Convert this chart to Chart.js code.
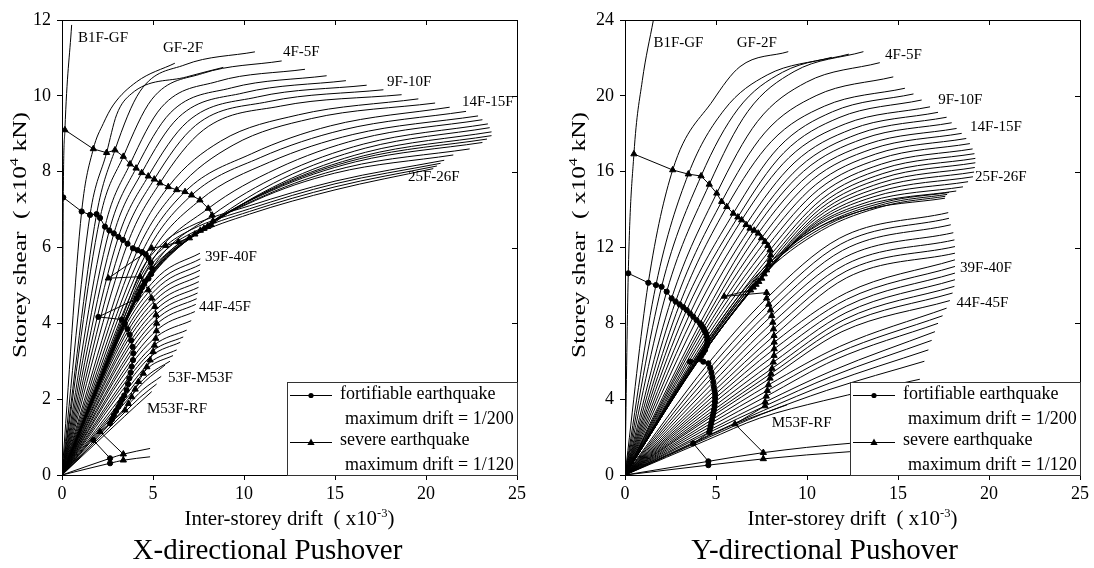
<!DOCTYPE html>
<html>
<head>
<meta charset="utf-8">
<script src="https://cdn.jsdelivr.net/npm/chart.js@4.4.0/dist/chart.umd.min.js"></script>
<style>
  html, body { margin: 0; padding: 0; background: #fff; }
  #wrap { position: relative; width: 1094px; height: 568px; overflow: hidden; }
  .pane { position: absolute; top: 0; width: 547px; height: 568px; }
</style>
</head>
<body>
<div id="wrap">
  <div class="pane" style="left:0"><canvas id="chartX" width="547" height="568"></canvas></div>
  <div class="pane" style="left:547px"><canvas id="chartY" width="547" height="568"></canvas></div>
</div>
<script>
// ---------- axis ticks ----------
const driftTicks = [0, 5, 10, 15, 20, 25];
const xShearTicks = [0, 2, 4, 6, 8, 10, 12];
const yShearTicks = [0, 4, 8, 12, 16, 20, 24];

// ---------- X-direction storey curves [drift, shear] ----------
const xTopStorey = [[0,0],[0.07,7.32],[0.16,9.1],[0.53,11.87]];

const xUpperCurves = [
  [[0,0],[1.08,6.95],[1.72,8.6],[2.27,9.27],[2.82,9.76],[4.1,10.37],[6.2,10.86]],
  [[0,0],[1.54,6.86],[2.45,8.5],[3.0,9.5],[3.8,10.05],[6.85,10.5],[8.86,10.75]],
  [[0,0],[1.9,6.88],[2.91,8.57],[4.29,10.12],[6.76,10.82],[10.6,11.16]],
  [[0,0],[2.09,6.78],[3.37,8.4],[4.94,9.91],[7.72,10.59],[12.07,10.92]],
  [[0,0],[2.36,6.55],[3.74,8.2],[5.47,9.7],[8.55,10.38],[13.35,10.7]],
  [[0,0],[2.6,6.45],[4.07,8.09],[5.95,9.55],[9.31,10.21],[14.54,10.53]],
  [[0,0],[2.85,6.37],[4.38,7.97],[6.4,9.43],[9.99,10.08],[15.6,10.4]],
  [[0,0],[3.1,6.28],[4.74,7.88],[6.9,9.32],[10.74,9.97],[16.74,10.28]],
  [[0,0],[3.35,6.2],[5.07,7.8],[7.34,9.22],[11.37,9.85],[17.66,10.16]],
  [[0,0],[3.6,6.1],[5.38,7.7],[7.77,9.1],[12.02,9.73],[18.66,10.03]],
  [[0,0],[3.9,5.98],[5.84,7.6],[8.7,8.8],[13.0,9.5],[19.58,9.92]],
  [[0,0],[4.15,5.93],[6.3,7.52],[9.4,8.7],[13.7,9.4],[20.5,9.81]],
  [[0,0],[4.4,5.88],[6.76,7.47],[10.4,8.47],[14.76,9.21],[21.3,9.7]],
  [[0,0],[4.6,5.82],[7.12,7.38],[10.89,8.37],[15.41,9.1],[22.2,9.59]],
  [[0,0],[4.75,5.72],[7.58,7.25],[11.4,8.25],[15.98,8.98],[22.86,9.47]],
  [[0,0],[4.88,5.6],[8.04,7.03],[11.81,8.08],[16.32,8.86],[23.1,9.37]],
  [[0,0],[4.95,5.45],[8.25,6.85],[12.04,7.93],[16.58,8.73],[23.4,9.26]],
  [[0,0],[4.9,5.3],[8.3,6.7],[12.1,7.81],[16.66,8.62],[23.5,9.16]],
  [[0,0],[4.75,5.18],[8.2,6.6],[12.05,7.7],[16.67,8.51],[23.6,9.05]],
  [[0,0],[4.55,5.1],[8.0,6.55],[11.9,7.63],[16.58,8.42],[23.6,8.95]],
  [[0,0],[4.4,4.95],[7.8,6.5],[11.69,7.56],[16.35,8.34],[23.35,8.86]],
  [[0,0],[4.3,4.85],[7.6,6.45],[11.48,7.49],[16.13,8.26],[23.1,8.77]],
  [[0,0],[4.2,4.75],[7.3,6.35],[11.08,7.36],[15.61,8.11],[22.4,8.6]],
  [[0,0],[4.1,4.65],[7.0,6.25],[10.63,7.24],[14.98,7.96],[21.5,8.44]]
];

const xBandCurves = [
  [[0,0],[1.6,2.0],[3.2,4.0],[4.3,5.35],[5.5,6.1],[7.0,6.55],[10.3,7.1],[15,7.75],[21,8.3]],
  [[0,0],[1.65,2.0],[3.3,4.0],[4.4,5.3],[5.6,6.0],[7.1,6.47],[10.3,7.02],[15,7.68],[20.8,8.22]],
  [[0,0],[1.7,2.0],[3.4,4.0],[4.5,5.25],[5.7,5.93],[7.2,6.4],[10.3,6.95],[15,7.6],[20.6,8.15]],
  [[0,0],[1.75,2.0],[3.5,4.0],[4.6,5.2],[5.8,5.86],[7.3,6.33],[10.3,6.88],[15,7.52],[20.4,8.08]]
];

const xLowerCurves = [
  [[0,0],[3.57,4.1],[5.37,5.27],[7.58,5.85]],
  [[0,0],[3.56,3.99],[5.38,5.13],[7.6,5.7]],
  [[0,0],[3.6,3.89],[5.4,5.0],[7.6,5.55]],
  [[0,0],[3.6,3.78],[5.39,4.86],[7.58,5.4]],
  [[0,0],[3.64,3.68],[5.4,4.73],[7.55,5.25]],
  [[0,0],[3.64,3.57],[5.39,4.59],[7.52,5.1]],
  [[0,0],[3.69,3.47],[5.4,4.46],[7.5,4.95]],
  [[0,0],[3.69,3.36],[5.38,4.32],[7.45,4.8]],
  [[0,0],[3.75,3.26],[5.39,4.19],[7.4,4.65]],
  [[0,0],[3.75,3.15],[5.37,4.05],[7.35,4.5]],
  [[0,0],[3.78,3.02],[5.36,3.88],[7.3,4.31]],
  [[0,0],[3.7,2.85],[5.23,3.66],[7.1,4.07]],
  [[0,0],[3.66,2.67],[5.1,3.44],[6.85,3.82]],
  [[0,0],[3.64,2.55],[5.0,3.28],[6.66,3.64]],
  [[0,0],[3.66,2.45],[4.94,3.15],[6.5,3.5]],
  [[0,0],[3.67,2.31],[4.85,2.97],[6.3,3.3]],
  [[0,0],[3.68,2.21],[4.77,2.84],[6.1,3.15]],
  [[0,0],[3.68,2.1],[4.69,2.62],[5.93,3.0]],
  [[0,0],[3.69,2.03],[4.58,2.48],[5.66,2.9]],
  [[0,0],[3.57,1.82],[4.42,2.24],[5.45,2.6]],
  [[0,0],[3.5,1.68],[4.27,2.04],[5.2,2.4]],
  [[0,0],[3.42,1.54],[4.1,1.84],[4.93,2.2]]
];

const xBaseCurves = [
  [[0,0],[2.64,0.44],[3.37,0.55],[4.84,0.7]],
  [[0,0],[2.64,0.31],[3.37,0.39],[4.84,0.48]]
];

const xFortifiable = [[0.07,7.32],[1.08,6.95],[1.54,6.86],[1.9,6.88],[2.09,6.78],[2.36,6.55],[2.6,6.45],[2.85,6.37],[3.1,6.28],[3.35,6.2],[3.6,6.1],[3.9,5.98],[4.15,5.93],[4.4,5.88],[4.6,5.82],[4.75,5.72],[4.88,5.6],[4.95,5.45],[4.9,5.3],[4.75,5.18],[4.55,5.1],[4.4,4.95],[4.3,4.85],[4.2,4.75],[4.1,4.65],[2.0,4.17],[3.28,4.1],[3.45,3.98],[3.6,3.85],[3.72,3.7],[3.8,3.55],[3.88,3.38],[3.92,3.21],[3.9,3.03],[3.83,2.86],[3.77,2.7],[3.7,2.55],[3.63,2.4],[3.55,2.24],[3.42,2.1],[3.3,2.0],[3.2,1.9],[3.1,1.8],[2.97,1.69],[2.85,1.58],[2.75,1.47],[2.64,1.36],[1.72,0.92],[2.64,0.44],[2.64,0.31]];

const xSevere = [[0.16,9.1],[1.72,8.6],[2.45,8.5],[2.91,8.57],[3.37,8.4],[3.74,8.2],[4.07,8.09],[4.38,7.97],[4.74,7.88],[5.07,7.8],[5.38,7.7],[5.84,7.6],[6.3,7.52],[6.76,7.47],[7.12,7.38],[7.58,7.25],[8.04,7.03],[8.25,6.85],[8.3,6.7],[8.2,6.6],[8.0,6.55],[7.8,6.5],[7.6,6.45],[7.3,6.35],[7.0,6.25],[6.4,6.15],[5.7,6.05],[4.93,5.98],[2.55,5.19],[4.29,5.23],[4.5,5.05],[4.74,4.88],[4.93,4.66],[5.1,4.44],[5.17,4.22],[5.2,4.0],[5.19,3.8],[5.15,3.6],[5.08,3.42],[5.0,3.25],[4.84,3.03],[4.66,2.85],[4.47,2.68],[4.2,2.46],[4.02,2.26],[3.83,2.06],[3.65,1.88],[3.46,1.71],[2.09,1.14],[3.37,0.55],[3.37,0.39]];

const xCurveNames = ['B1F-GF','GF-2F','4F-5F','9F-10F','14F-15F','25F-26F','39F-40F','44F-45F','53F-M53F','M53F-RF'];
const xNameAt = [[0.88,11.52],[5.55,11.26],[12.14,11.16],[17.86,10.36],[21.98,9.84],[19.01,7.86],[7.86,5.75],[7.53,4.43],[5.82,2.56],[4.67,1.74]];

// ---------- Y-direction storey curves [drift, shear] ----------
const yTopStorey = [[0,0],[0.18,10.64],[0.49,16.93],[0.95,20.8],[1.56,24]];

const yUpperCurves = [
  [[0,0],[1.28,10.14],[2.62,16.09],[4.85,19.78],[6.32,21.54],[8.97,22.33]],
  [[0,0],[1.7,10.02],[3.48,15.87],[5.45,19.26],[7.81,21.1],[11.36,22.03]],
  [[0,0],[2.01,9.93],[4.18,15.77],[6.21,19.31],[8.65,21.24],[12.3,22.2]],
  [[0,0],[2.29,9.67],[4.63,15.33],[6.75,19.18],[9.29,21.28],[13.1,22.33]],
  [[0,0],[2.56,9.32],[5.04,14.86],[7.28,18.65],[9.97,20.72],[14.0,21.75]],
  [[0,0],[2.78,9.15],[5.31,14.42],[7.67,18.04],[10.5,20.01],[14.74,21.0]],
  [[0,0],[3.0,9.0],[5.59,14.15],[8.04,17.59],[10.97,19.46],[15.38,20.4]],
  [[0,0],[3.2,8.85],[5.95,13.8],[8.43,17.27],[11.4,19.16],[15.85,20.1]],
  [[0,0],[3.39,8.7],[6.2,13.6],[8.73,17.0],[11.76,18.85],[16.3,19.78]],
  [[0,0],[3.57,8.52],[6.41,13.45],[9.0,16.73],[12.1,18.52],[16.76,19.42]],
  [[0,0],[3.75,8.35],[6.65,13.2],[9.29,16.46],[12.45,18.24],[17.2,19.13]],
  [[0,0],[3.93,8.17],[6.87,13.01],[9.57,16.23],[12.81,17.99],[17.67,18.87]],
  [[0,0],[4.12,8.0],[7.1,12.9],[9.81,16.02],[13.07,17.73],[17.95,18.58]],
  [[0,0],[4.22,7.87],[7.32,12.75],[10.05,15.79],[13.32,17.45],[18.22,18.28]],
  [[0,0],[4.3,7.75],[7.5,12.5],[10.25,15.54],[13.55,17.19],[18.5,18.02]],
  [[0,0],[4.38,7.6],[7.69,12.31],[10.46,15.3],[13.77,16.93],[18.75,17.75]],
  [[0,0],[4.45,7.47],[7.85,12.1],[10.63,15.06],[13.96,16.67],[18.95,17.48]],
  [[0,0],[4.5,7.3],[7.97,11.87],[10.75,14.8],[14.09,16.4],[19.1,17.2]],
  [[0,0],[4.52,7.12],[8.0,11.6],[10.8,14.54],[14.16,16.15],[19.2,16.95]],
  [[0,0],[4.52,6.95],[7.97,11.34],[10.79,14.29],[14.17,15.9],[19.25,16.7]],
  [[0,0],[4.48,6.8],[7.9,11.1],[10.74,14.05],[14.14,15.66],[19.25,16.47]],
  [[0,0],[4.4,6.6],[7.78,10.81],[10.64,13.79],[14.07,15.41],[19.22,16.22]],
  [[0,0],[4.3,6.45],[7.65,10.6],[10.53,13.56],[13.99,15.17],[19.18,15.98]],
  [[0,0],[4.2,6.3],[7.51,10.37],[10.41,13.32],[13.9,14.93],[19.12,15.73]],
  [[0,0],[4.1,6.15],[7.35,10.2],[10.23,13.1],[13.68,14.68],[18.85,15.47]],
  [[0,0],[4.0,6.0],[7.2,10.05],[10.04,12.88],[13.45,14.43],[18.57,15.2]],
  [[0,0],[3.9,5.85],[7.05,9.9],[9.84,12.69],[13.18,14.22],[18.2,14.98]],
  [[0,0],[3.8,5.7],[6.9,9.75],[9.57,12.42],[12.77,13.87],[17.58,14.6]]
];

const yBandCurves = [
  [[0,0],[4.49,7.1],[7.3,10.6],[10.7,13.1],[14.3,14.4],[17.8,14.9]],
  [[0,0],[4.55,7.05],[7.35,10.5],[10.75,13.0],[14.3,14.3],[17.7,14.8]],
  [[0,0],[4.6,7.0],[7.4,10.4],[10.8,12.9],[14.3,14.2],[17.6,14.7]]
];

const yLowerCurves = [
  [[0,0],[4.58,5.89],[7.78,9.32],[11.77,12.48],[17.76,13.84]],
  [[0,0],[4.68,5.65],[7.9,9.0],[11.86,12.18],[17.8,13.54]],
  [[0,0],[4.75,5.4],[8.0,8.7],[11.96,11.85],[17.9,13.2]],
  [[0,0],[4.8,5.15],[8.06,8.4],[12.05,11.47],[18.04,12.78]],
  [[0,0],[4.85,4.9],[8.12,8.05],[12.11,11.1],[18.1,12.4]],
  [[0,0],[4.88,4.65],[8.16,7.7],[12.15,10.75],[18.13,12.05]],
  [[0,0],[4.92,4.45],[8.19,7.35],[12.17,10.4],[18.13,11.7]],
  [[0,0],[4.95,4.25],[8.2,7.0],[12.17,9.61],[18.13,11.35]],
  [[0,0],[4.95,4.05],[8.2,6.65],[12.17,9.26],[18.13,11.0]],
  [[0,0],[4.94,3.85],[8.19,6.3],[12.17,8.91],[18.13,10.65]],
  [[0,0],[4.92,3.64],[8.15,5.95],[12.14,8.56],[18.13,10.3]],
  [[0,0],[4.89,3.44],[8.08,5.62],[12.09,8.22],[18.1,9.95]],
  [[0,0],[4.86,3.27],[8.02,5.35],[12.01,7.9],[18.0,9.6]],
  [[0,0],[4.82,3.12],[7.97,5.1],[11.92,7.56],[17.85,9.2]],
  [[0,0],[4.78,2.92],[7.88,4.75],[11.8,6.78],[17.67,8.8]],
  [[0,0],[4.74,2.74],[7.82,4.45],[11.67,6.43],[17.45,8.4]],
  [[0,0],[4.7,2.56],[7.76,4.15],[11.54,6.08],[17.2,8.0]],
  [[0,0],[4.66,2.38],[7.7,3.85],[11.43,5.52],[17.03,7.56]],
  [[0,0],[4.63,2.25],[7.69,3.64],[11.35,5.2],[16.85,7.1]],
  [[0,0],[4.6,2.1],[7.6,3.4],[11.23,4.84],[16.67,6.6]],
  [[0,0],[4.58,1.98],[7.5,3.2],[11.08,4.46],[16.45,6.0]],
  [[0,0],[4.55,1.86],[7.4,3.0],[10.92,3.92],[16.2,5.05]],
  [[0,0],[3.75,1.67],[6.04,2.69],[8.9,3.7]]
];

const yBaseCurves = [
  [[0,0],[4.58,0.72],[7.6,1.18],[12.36,1.67],[18,1.95]],
  [[0,0],[4.58,0.52],[7.6,0.85],[12.36,1.23],[18,1.5]]
];

const yFortifiable = [[0.18,10.64],[1.28,10.14],[1.7,10.02],[2.01,9.93],[2.29,9.67],[2.56,9.32],[2.78,9.15],[3.0,9.0],[3.2,8.85],[3.39,8.7],[3.57,8.52],[3.75,8.35],[3.93,8.17],[4.12,8.0],[4.22,7.87],[4.3,7.75],[4.38,7.6],[4.45,7.47],[4.5,7.3],[4.52,7.12],[4.52,6.95],[4.48,6.8],[4.4,6.6],[4.3,6.45],[4.2,6.3],[4.1,6.15],[3.57,5.98],[4.3,5.98],[4.58,5.89],[4.68,5.65],[4.75,5.4],[4.8,5.15],[4.85,4.9],[4.88,4.65],[4.92,4.45],[4.95,4.25],[4.95,4.05],[4.94,3.85],[4.92,3.64],[4.89,3.44],[4.86,3.27],[4.82,3.12],[4.78,2.92],[4.74,2.74],[4.7,2.56],[4.66,2.38],[4.63,2.25],[3.75,1.67],[4.58,0.72],[4.58,0.52]];

const ySevere = [[0.49,16.93],[2.62,16.09],[3.48,15.87],[4.18,15.77],[4.63,15.33],[5.04,14.86],[5.31,14.42],[5.59,14.15],[5.95,13.8],[6.2,13.6],[6.41,13.45],[6.65,13.2],[6.87,13.01],[7.1,12.9],[7.32,12.75],[7.5,12.5],[7.69,12.31],[7.85,12.1],[7.97,11.87],[8.0,11.6],[7.97,11.34],[7.9,11.1],[7.78,10.81],[7.65,10.6],[7.51,10.37],[7.35,10.2],[7.2,10.05],[7.05,9.9],[6.9,9.75],[5.45,9.42],[7.78,9.62],[7.78,9.32],[7.9,9.0],[8.0,8.7],[8.06,8.4],[8.12,8.05],[8.16,7.7],[8.19,7.35],[8.2,7.0],[8.2,6.65],[8.19,6.3],[8.15,5.95],[8.08,5.62],[8.02,5.35],[7.97,5.1],[7.88,4.75],[7.82,4.45],[7.76,4.15],[7.7,3.85],[7.69,3.64],[6.04,2.69],[7.6,1.18],[7.6,0.85]];

const yCurveNames = ['B1F-GF','GF-2F','4F-5F','9F-10F','14F-15F','25F-26F','39F-40F','44F-45F','M53F-RF'];
const yNameAt = [[1.56,22.77],[6.14,22.77],[14.29,22.15],[17.21,19.78],[18.96,18.37],[19.23,15.73],[18.41,10.9],[18.22,9.06],[8.06,2.73]];

const legendText = ['fortifiable earthquake', 'maximum drift = 1/200', 'severe earthquake', 'maximum drift = 1/120'];

// ---------- drawing ----------
const SERIF = '"Liberation Serif", "Times New Roman", serif';
Chart.defaults.font.family = SERIF;
Chart.defaults.color = '#000';

function toXY(pts) {
  return pts.map(p => ({ x: p[0], y: p[1] }));
}

function curve(pts) {
  return {
    data: toXY(pts), showLine: true, borderColor: '#000', borderWidth: 1,
    pointRadius: 0, pointHoverRadius: 0, cubicInterpolationMode: 'monotone', fill: false
  };
}

function chain(pts, style, r) {
  return {
    data: toXY(pts), showLine: true, borderColor: '#000', borderWidth: 1, tension: 0,
    pointRadius: r, pointHoverRadius: r, pointStyle: style,
    pointBackgroundColor: '#000', pointBorderColor: '#000', pointBorderWidth: 1, fill: false
  };
}

// text with one raised part, centred on cx and stretched to a given width
function supText(ctx, parts, cx, y, width) {
  let total = 0;
  parts.forEach(p => { ctx.font = p[1] + 'px ' + SERIF; p.w = ctx.measureText(p[0]).width; total += p.w; });
  ctx.save();
  ctx.translate(cx - width / 2, y);
  ctx.scale(width / total, 1);
  let x = 0;
  parts.forEach(p => { ctx.font = p[1] + 'px ' + SERIF; ctx.fillText(p[0], x, p[2]); x += p.w; });
  ctx.restore();
}

function marker(ctx, style, x, y) {
  ctx.beginPath();
  if (style === 'circle') {
    ctx.arc(x, y, 2.6, 0, Math.PI * 2);
  } else {
    ctx.moveTo(x, y - 4); ctx.lineTo(x + 3.6, y + 2.4); ctx.lineTo(x - 3.6, y + 2.4); ctx.closePath();
  }
  ctx.fill();
}

const decor = {
  id: 'decor',
  afterDatasetsDraw(chart, args, o) {
    const ctx = chart.ctx, a = chart.chartArea;
    const sx = chart.scales.x, sy = chart.scales.y;
    ctx.save();
    ctx.strokeStyle = '#000';
    ctx.lineWidth = 1;
    ctx.beginPath();
    ctx.moveTo(a.left, a.top + 0.5);
    ctx.lineTo(a.right + 0.5, a.top + 0.5);
    ctx.lineTo(a.right + 0.5, a.bottom + 0.5);
    o.xTicks.forEach(v => {
      const p = Math.round(sx.getPixelForValue(v)) + 0.5;
      ctx.moveTo(p, a.top); ctx.lineTo(p, a.top + 5);
    });
    o.yTicks.forEach(v => {
      const p = Math.round(sy.getPixelForValue(v)) + 0.5;
      ctx.moveTo(a.right, p); ctx.lineTo(a.right - 5, p);
    });
    ctx.stroke();

    // storey labels
    ctx.fillStyle = '#000';
    ctx.font = '15px ' + SERIF;
    ctx.textAlign = 'left';
    ctx.textBaseline = 'middle';
    o.names.forEach((t, i) => {
      ctx.fillText(t, sx.getPixelForValue(o.nameAt[i][0]), sy.getPixelForValue(o.nameAt[i][1]));
    });

    // legend box
    const lw = 230, lh = 93, lx = a.right - lw, ly = a.bottom - lh;
    ctx.fillStyle = '#fff';
    ctx.fillRect(lx, ly, lw, lh);
    ctx.strokeStyle = '#333';
    ctx.strokeRect(lx + 0.5, ly + 0.5, lw, lh);
    ctx.strokeStyle = '#000';
    ctx.fillStyle = '#000';
    [[ly + 13.5, 'circle'], [ly + 60.5, 'triangle']].forEach(r => {
      ctx.beginPath(); ctx.moveTo(lx + 3, r[0]); ctx.lineTo(lx + 45, r[0]); ctx.stroke();
      marker(ctx, r[1], lx + 24, r[0]);
    });
    ctx.font = '18px ' + SERIF;
    ctx.textBaseline = 'alphabetic';
    ctx.fillText(legendText[0], lx + 53, ly + 17);
    ctx.fillText(legendText[1], lx + 58, ly + 42);
    ctx.fillText(legendText[2], lx + 53, ly + 63);
    ctx.fillText(legendText[3], lx + 58, ly + 88);
    ctx.restore();
  },
  afterDraw(chart, args, o) {
    const ctx = chart.ctx, a = chart.chartArea;
    const mid = (a.left + a.right) / 2;
    ctx.save();
    ctx.fillStyle = '#000';
    ctx.textAlign = 'left';
    ctx.textBaseline = 'alphabetic';
    supText(ctx, [['Inter-storey drift  ( x10', 20, 0], ['-3', 12, -8], [')', 20, 0]], mid, 525, 210);
    ctx.save();
    ctx.translate(o.yTitleX, 235);
    ctx.rotate(-Math.PI / 2);
    supText(ctx, [['Storey shear  ( x10', 19, 0], ['4', 12, -8], [' kN)', 19, 0]], 0, 0, 246);
    ctx.restore();
    ctx.font = '29px ' + SERIF;
    ctx.textAlign = 'center';
    ctx.fillText(o.title, mid + o.titleShift, 559);
    ctx.restore();
  }
};

function makeChart(id, cfg) {
  const datasets = [
    chain(cfg.fort, 'circle', 2.6),
    chain(cfg.severe, 'triangle', 3.6),
    curve(cfg.top)
  ];
  cfg.groups.forEach(g => g.forEach(c => datasets.push(curve(c))));

  return new Chart(document.getElementById(id), {
    type: 'scatter',
    data: { datasets },
    plugins: [decor],
    options: {
      responsive: false,
      animation: false,
      events: [],
      layout: { padding: { top: 20, right: cfg.rightPad, left: 0, bottom: 0 } },
      plugins: {
        legend: { display: false },
        tooltip: { enabled: false },
        decor: {
          xTicks: driftTicks, yTicks: cfg.yTicks, names: cfg.names, nameAt: cfg.nameAt,
          title: cfg.title, titleShift: cfg.titleShift, yTitleX: cfg.yTitleX
        }
      },
      scales: {
        x: {
          type: 'linear', min: 0, max: 25,
          afterBuildTicks: s => { s.ticks = driftTicks.map(v => ({ value: v })); },
          afterFit: s => { s.height = 93; },
          ticks: { font: { size: 18 }, color: '#000', padding: 3, maxRotation: 0 },
          grid: { display: true, drawOnChartArea: false, drawTicks: true, tickLength: 5, color: '#000' },
          border: { display: true, color: '#000', width: 1 }
        },
        y: {
          type: 'linear', min: 0, max: cfg.yTicks[cfg.yTicks.length - 1],
          afterBuildTicks: s => { s.ticks = cfg.yTicks.map(v => ({ value: v })); },
          afterFit: s => { s.width = cfg.leftW; },
          ticks: { font: { size: 18 }, color: '#000', padding: 6 },
          grid: { display: true, drawOnChartArea: false, drawTicks: true, tickLength: 5, color: '#000' },
          border: { display: true, color: '#000', width: 1 }
        }
      }
    }
  });
}

makeChart('chartX', {
  fort: xFortifiable, severe: xSevere, top: xTopStorey,
  groups: [xUpperCurves, xBandCurves, xLowerCurves, xBaseCurves],
  yTicks: xShearTicks, names: xCurveNames, nameAt: xNameAt,
  title: 'X-directional Pushover', titleShift: -22, leftW: 62, rightPad: 30, yTitleX: 26
});

makeChart('chartY', {
  fort: yFortifiable, severe: ySevere, top: yTopStorey,
  groups: [yUpperCurves, yBandCurves, yLowerCurves, yBaseCurves],
  yTicks: yShearTicks, names: yCurveNames, nameAt: yNameAt,
  title: 'Y-directional Pushover', titleShift: -28, leftW: 78, rightPad: 14, yTitleX: 38
});
</script>
</body>
</html>
